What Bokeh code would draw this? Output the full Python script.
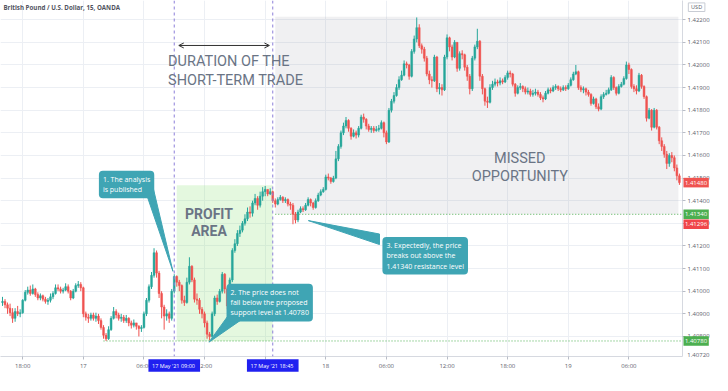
from bokeh.plotting import figure
from bokeh.models import (Range1d, FixedTicker, NumeralTickFormatter, Label, Span,
                          BoxAnnotation, Arrow, OpenHead, ColumnDataSource)
from bokeh.core.properties import value
from bokeh.embed import file_html
from bokeh.resources import INLINE

# ---------------- data (GBP/USD, 15-minute candles) -------------
TITLE = "British Pound / U.S. Dollar, 15, OANDA"
start_hour = -8.0      # first candle: 16 May 16:00 (hours relative to 17 May 00:00)
bar_hours = 0.25       # 15 minutes
first_open = 1.40950

close = [
    1.40955, 1.40940, 1.40925, 1.40905, 1.40880, 1.40910, 1.40900, 1.40905, 1.40960, 1.40995,
    1.41005, 1.40990, 1.41010, 1.40985, 1.40970, 1.40980, 1.40965, 1.40955, 1.40960, 1.40975,
    1.40990, 1.41015, 1.41010, 1.41000, 1.41005, 1.41020, 1.41000, 1.40970, 1.41000, 1.41025,
    1.41030, 1.41015, 1.40900, 1.40885, 1.40880, 1.40895, 1.40880, 1.40890, 1.40870, 1.40840,
    1.40805, 1.40790, 1.40830, 1.40880, 1.40910, 1.40895, 1.40880, 1.40885, 1.40870, 1.40880,
    1.40860, 1.40850, 1.40860,
    1.40845, 1.40835, 1.40840, 1.40900, 1.40960, 1.41020, 1.41070, 1.41170, 1.41080, 1.40990,
    1.40930, 1.40890, 1.40900, 1.40880, 1.41000, 1.41065, 1.41040, 1.41025, 1.40960, 1.40950,
    1.41040, 1.41110, 1.41050, 1.40965, 1.40960, 1.40920, 1.40900, 1.40860, 1.40810, 1.40800,
    1.40900, 1.40970, 1.40955, 1.41000, 1.41075, 1.41010, 1.40935, 1.41050, 1.41180, 1.41210,
    1.41255, 1.41270, 1.41300, 1.41320, 1.41350, 1.41345, 1.41390, 1.41410, 1.41380, 1.41420,
    1.41440, 1.41450,
    1.41430, 1.41440, 1.41400, 1.41385, 1.41405, 1.41415, 1.41400, 1.41405, 1.41385, 1.41380,
    1.41340, 1.41315, 1.41350, 1.41365, 1.41360, 1.41380, 1.41405, 1.41390, 1.41370, 1.41400,
    1.41425, 1.41440, 1.41450, 1.41505, 1.41500, 1.41485, 1.41500, 1.41585, 1.41640, 1.41700,
    1.41730, 1.41755, 1.41720, 1.41685, 1.41700, 1.41690, 1.41720, 1.41770, 1.41760, 1.41730,
    1.41715, 1.41720, 1.41710, 1.41715, 1.41720, 1.41745, 1.41700, 1.41660, 1.41800, 1.41840,
    1.41865, 1.41900,
    1.41935, 1.41955, 1.42005, 1.42000, 1.41950, 1.42060, 1.42115, 1.42165, 1.42085, 1.42070,
    1.42030, 1.41960, 1.41935, 1.41930, 1.42035, 1.41895, 1.41900, 1.41890, 1.42035, 1.42120,
    1.42080, 1.42035, 1.42100, 1.41985, 1.42050, 1.42045, 1.41990, 1.41950, 1.41895, 1.42030,
    1.42080, 1.42105, 1.41950, 1.41895, 1.41840, 1.41835, 1.41900, 1.41915, 1.41925, 1.41920,
    1.41930, 1.41925, 1.41945, 1.41965, 1.41960, 1.41915, 1.41875, 1.41900, 1.41905, 1.41895,
    1.41880, 1.41885, 1.41870, 1.41875, 1.41880,
    1.41870, 1.41855, 1.41850, 1.41875, 1.41890, 1.41885, 1.41900, 1.41905, 1.41895, 1.41890,
    1.41900, 1.41895, 1.41910, 1.41935, 1.41960, 1.41970, 1.41900, 1.41890, 1.41895, 1.41880,
    1.41870, 1.41830, 1.41850, 1.41815, 1.41805, 1.41860, 1.41870, 1.41875, 1.41890, 1.41945,
    1.41900, 1.41875, 1.41905, 1.41915, 1.41940, 1.42000, 1.41980, 1.41905, 1.41895, 1.41885,
    1.41955, 1.41905, 1.41860, 1.41765, 1.41800, 1.41725, 1.41800, 1.41725, 1.41665, 1.41640,
    1.41605, 1.41565, 1.41600, 1.41590, 1.41545, 1.41510, 1.41480,
]

high = [
    1.40975, 1.40965, 1.40950, 1.40945, 1.40925, 1.40925, 1.40935, 1.40920, 1.40965, 1.41005,
    1.41020, 1.41025, 1.41030, 1.41015, 1.40995, 1.40990, 1.40985, 1.40975, 1.40970, 1.40990,
    1.41000, 1.41030, 1.41030, 1.41020, 1.41015, 1.41035, 1.41030, 1.41005, 1.41010, 1.41035,
    1.41045, 1.41040, 1.41020, 1.40910, 1.40900, 1.40905, 1.40905, 1.40905, 1.40900, 1.40880,
    1.40850, 1.40815, 1.40845, 1.40890, 1.40930, 1.40920, 1.40905, 1.40900, 1.40895, 1.40895,
    1.40885, 1.40870, 1.40875,
    1.40860, 1.40850, 1.40850, 1.40910, 1.40970, 1.41030, 1.41085, 1.41190, 1.41180, 1.41090,
    1.41000, 1.40940, 1.40920, 1.40910, 1.41010, 1.41075, 1.41070, 1.41050, 1.41030, 1.40980,
    1.41060, 1.41150, 1.41115, 1.41060, 1.40990, 1.40970, 1.40930, 1.40910, 1.40870, 1.40820,
    1.40910, 1.40980, 1.40985, 1.41010, 1.41085, 1.41080, 1.41015, 1.41060, 1.41190, 1.41230,
    1.41270, 1.41290, 1.41310, 1.41340, 1.41370, 1.41375, 1.41400, 1.41430, 1.41420, 1.41440,
    1.41460, 1.41465,
    1.41450, 1.41455, 1.41445, 1.41410, 1.41415, 1.41425, 1.41420, 1.41415, 1.41410, 1.41395,
    1.41390, 1.41350, 1.41360, 1.41375, 1.41375, 1.41390, 1.41415, 1.41410, 1.41395, 1.41410,
    1.41435, 1.41450, 1.41460, 1.41515, 1.41520, 1.41505, 1.41510, 1.41620, 1.41650, 1.41710,
    1.41745, 1.41770, 1.41760, 1.41725, 1.41715, 1.41710, 1.41730, 1.41780, 1.41785, 1.41765,
    1.41740, 1.41730, 1.41730, 1.41730, 1.41735, 1.41755, 1.41750, 1.41710, 1.41810, 1.41850,
    1.41880, 1.41915,
    1.41950, 1.41975, 1.42020, 1.42015, 1.42005, 1.42070, 1.42130, 1.42210, 1.42180, 1.42095,
    1.42080, 1.42040, 1.41975, 1.41950, 1.42045, 1.42040, 1.41920, 1.41915, 1.42045, 1.42135,
    1.42125, 1.42090, 1.42110, 1.42100, 1.42060, 1.42065, 1.42050, 1.42000, 1.41960, 1.42040,
    1.42090, 1.42160, 1.42110, 1.41960, 1.41900, 1.41860, 1.41915, 1.41930, 1.41940, 1.41935,
    1.41945, 1.41940, 1.41955, 1.41975, 1.41975, 1.41965, 1.41920, 1.41910, 1.41920, 1.41910,
    1.41905, 1.41900, 1.41895, 1.41890, 1.41895,
    1.41890, 1.41880, 1.41865, 1.41885, 1.41900, 1.41900, 1.41910, 1.41915, 1.41910, 1.41905,
    1.41910, 1.41910, 1.41920, 1.41945, 1.41970, 1.42000, 1.41975, 1.41910, 1.41905, 1.41900,
    1.41890, 1.41875, 1.41860, 1.41855, 1.41830, 1.41870, 1.41880, 1.41890, 1.41900, 1.41955,
    1.41950, 1.41905, 1.41915, 1.41925, 1.41950, 1.42015, 1.42010, 1.41985, 1.41915, 1.41910,
    1.41965, 1.41960, 1.41910, 1.41865, 1.41810, 1.41805, 1.41810, 1.41805, 1.41730, 1.41680,
    1.41650, 1.41620, 1.41610, 1.41615, 1.41600, 1.41560, 1.41520,
]

low = [
    1.40935, 1.40925, 1.40900, 1.40890, 1.40860, 1.40865, 1.40890, 1.40885, 1.40900, 1.40955,
    1.40985, 1.40980, 1.40985, 1.40975, 1.40960, 1.40960, 1.40955, 1.40945, 1.40940, 1.40950,
    1.40965, 1.40985, 1.41000, 1.40990, 1.40990, 1.41000, 1.40990, 1.40960, 1.40965, 1.40995,
    1.41015, 1.41000, 1.40885, 1.40870, 1.40860, 1.40870, 1.40870, 1.40865, 1.40855, 1.40830,
    1.40790, 1.40780, 1.40785, 1.40825, 1.40875, 1.40880, 1.40870, 1.40865, 1.40860, 1.40860,
    1.40845, 1.40835, 1.40840,
    1.40830, 1.40800, 1.40820, 1.40835, 1.40890, 1.40950, 1.41010, 1.41060, 1.41060, 1.40970,
    1.40880, 1.40830, 1.40870, 1.40860, 1.40870, 1.40990, 1.41020, 1.41000, 1.40945, 1.40935,
    1.40945, 1.41030, 1.41040, 1.40950, 1.40940, 1.40900, 1.40880, 1.40840, 1.40790, 1.40782,
    1.40795, 1.40890, 1.40940, 1.40950, 1.40990, 1.40990, 1.40920, 1.40930, 1.41040, 1.41170,
    1.41200, 1.41240, 1.41260, 1.41290, 1.41310, 1.41325, 1.41330, 1.41380, 1.41360, 1.41370,
    1.41400, 1.41420,
    1.41420, 1.41425, 1.41390, 1.41370, 1.41380, 1.41400, 1.41390, 1.41390, 1.41375, 1.41360,
    1.41296, 1.41300, 1.41305, 1.41345, 1.41350, 1.41355, 1.41375, 1.41375, 1.41360, 1.41365,
    1.41395, 1.41420, 1.41435, 1.41445, 1.41490, 1.41475, 1.41480, 1.41495, 1.41575, 1.41630,
    1.41690, 1.41720, 1.41705, 1.41670, 1.41680, 1.41675, 1.41680, 1.41715, 1.41745, 1.41715,
    1.41705, 1.41700, 1.41700, 1.41705, 1.41705, 1.41715, 1.41680, 1.41650, 1.41655, 1.41790,
    1.41830, 1.41860,
    1.41890, 1.41930, 1.41950, 1.41985, 1.41935, 1.41945, 1.42050, 1.42100, 1.42075, 1.42050,
    1.42015, 1.41950, 1.41915, 1.41900, 1.41925, 1.41880, 1.41870, 1.41865, 1.41885, 1.42025,
    1.42060, 1.42020, 1.42030, 1.41970, 1.41975, 1.42025, 1.41975, 1.41930, 1.41870, 1.41885,
    1.42020, 1.42070, 1.41930, 1.41870, 1.41820, 1.41810, 1.41830, 1.41890, 1.41905, 1.41905,
    1.41910, 1.41915, 1.41920, 1.41935, 1.41945, 1.41905, 1.41860, 1.41870, 1.41890, 1.41880,
    1.41870, 1.41870, 1.41860, 1.41860, 1.41865,
    1.41860, 1.41845, 1.41835, 1.41845, 1.41870, 1.41875, 1.41880, 1.41890, 1.41885, 1.41880,
    1.41885, 1.41885, 1.41890, 1.41905, 1.41930, 1.41955, 1.41890, 1.41880, 1.41875, 1.41865,
    1.41860, 1.41820, 1.41825, 1.41805, 1.41795, 1.41800, 1.41850, 1.41865, 1.41870, 1.41885,
    1.41890, 1.41865, 1.41870, 1.41900, 1.41910, 1.41935, 1.41960, 1.41895, 1.41880, 1.41870,
    1.41880, 1.41895, 1.41850, 1.41750, 1.41760, 1.41710, 1.41720, 1.41715, 1.41650, 1.41620,
    1.41590, 1.41540, 1.41550, 1.41570, 1.41530, 1.41490, 1.41470,
]

time_ticks = [-6, 0, 6, 12, 18, 24, 30, 36, 42, 48, 54]
time_labels = ["18:00", "17", "06:00", "12:00", "18:00", "18", "06:00", "12:00", "18:00", "19", "06:00"]
price_ticks = [1.408, 1.409, 1.410, 1.411, 1.412, 1.413, 1.414, 1.415,
               1.416, 1.417, 1.418, 1.419, 1.420, 1.421, 1.422]

trade_open = 9.0          # 17 May '21 09:00
trade_close = 18.75       # 17 May '21 18:45
trade_tags = ["17 May '21  09:00", "17 May '21  18:45"]
support = 1.40780
resistance = 1.41340
breakout_low = 1.41296
last_price = 1.41480
bottom_price = 1.40720
price_tags = [last_price, resistance, breakout_low, support]
price_tag_colors = ["#ef5350", "#4caf50", "#f0464a", "#4caf50"]
support_from = 2.0
resistance_from = 19.0
profit_left, profit_top = 9.25, 1.41468
missed_left, missed_right, missed_top = 19.0, 58.9, 1.42213

# ---------------- geometry helpers (reference pixel -> data) -----------------------
X_LEFT, X_RIGHT = -8.197, 59.306
Y_TOP, Y_BOTTOM = 1.42285, 1.407114
PX_PER_HOUR, PX_PER_PRICE = 10.37, 23640.0
def hx(px):
    return X_LEFT + px / PX_PER_HOUR
def py(px):
    return Y_TOP - px / PX_PER_PRICE

UP, DOWN = "#26a69a", "#ef5350"
TEAL = "#3fa5b4"
TXT = "#6a7485"
FONT = "Open Sans"

n = min(len(close), len(high), len(low))
hours = [start_hour + bar_hours * i for i in range(n)]
opens = [first_open] + close[:n - 1]
src = ColumnDataSource(dict(
    x=hours, high=high[:n], low=low[:n],
    top=[max(o, c) for o, c in zip(opens, close[:n])],
    bottom=[min(o, c) for o, c in zip(opens, close[:n])],
    color=[UP if c >= o else DOWN for o, c in zip(opens, close[:n])],
))

p = figure(width=712, height=375, x_range=Range1d(X_LEFT, X_RIGHT),
           y_range=Range1d(Y_BOTTOM, Y_TOP), output_backend="svg",
           toolbar_location=None, y_axis_location="right",
           min_border_left=0, min_border_top=0, min_border_right=28, min_border_bottom=19,
           outline_line_color=None, background_fill_color="white", border_fill_color="white")

# axes
p.xaxis.ticker = FixedTicker(ticks=time_ticks)
p.xaxis.major_label_overrides = dict(zip(time_ticks, time_labels))
p.yaxis.ticker = FixedTicker(ticks=price_ticks)
p.yaxis.formatter = NumeralTickFormatter(format="0.00000")
for ax in (p.xaxis[0], p.yaxis[0]):
    ax.major_label_text_font = FONT
    ax.major_label_text_font_size = "6px"
    ax.major_label_text_color = "#5d616c"
    ax.axis_line_color = "#d6d9e0"
    ax.major_tick_line_color = "#b8bcc6"
    ax.major_tick_out = 3
    ax.major_tick_in = 0
    ax.minor_tick_out = 0
    ax.minor_tick_in = 0
    ax.major_label_standoff = 2
p.xgrid.ticker = FixedTicker(ticks=time_ticks)
p.ygrid.ticker = FixedTicker(ticks=price_ticks)
p.grid.grid_line_color = "#eceff4"

# shaded areas
p.add_layout(BoxAnnotation(left=missed_left, right=missed_right, bottom=resistance, top=missed_top,
                           fill_color="#9598a1", fill_alpha=0.14, line_color=None, level="underlay"))
p.add_layout(BoxAnnotation(left=profit_left, right=trade_close, bottom=support, top=profit_top,
                           fill_color="#8ee07a", fill_alpha=0.24, line_color=None, level="underlay"))

# dotted support / resistance lines
p.segment(x0=[support_from, resistance_from], y0=[support, resistance],
          x1=[X_RIGHT, X_RIGHT], y1=[support, resistance],
          line_color="#4caf50", line_dash="1 2", line_width=1)

# vertical dashed time markers
for t in (trade_open, trade_close):
    p.add_layout(Span(location=t, dimension="height", line_color="#8c7fd9",
                      line_dash="3 3", line_width=1))

# candles
p.segment(x0="x", y0="low", x1="x", y1="high", source=src, line_color="color", line_width=1)
p.vbar(x="x", width=0.18, top="top", bottom="bottom", source=src,
       fill_color="color", line_color="color", line_width=0.5)

# callout pointers
ptr_x = [[hx(148), hx(157), hx(177)],
         [hx(236), hx(258), hx(214)],
         [hx(389), hx(389), hx(316)]]
ptr_y = [[py(197), py(197), py(283)],
         [py(326), py(326), py(357)],
         [py(244), py(255), py(230)]]
p.patches(xs=ptr_x, ys=ptr_y, fill_color=TEAL, line_color=TEAL)

def add_label(px, pyy, text, size, color, align="left", baseline="top", font=FONT,
              style="normal", bg=None, pad=0, radius=0, lh=1.2):
    lab = Label(x=hx(px), y=py(pyy), text=text, text_font=font, text_font_size=size,
                text_color=color, text_align=align, text_baseline=baseline,
                text_font_style=style, text_line_height=lh)
    if bg is not None:
        lab.background_fill_color = bg
        lab.padding = pad
        lab.border_radius = radius
    p.add_layout(lab)
    return lab

# callouts
add_label(101, 178, "1. The analysis\nis published", "7px", "white", bg=TEAL, pad=4, radius=4, lh=1.15)
add_label(232, 296, "2. The price does not\nfall below the proposed\nsupport level at 1.40780",
          "7px", "white", bg=TEAL, pad=4, radius=4, lh=1.15)
add_label(392, 247, "3. Expectedly, the price\nbreaks out above the\n1.41340 resistance level",
          "7px", "white", bg=TEAL, pad=4, radius=4, lh=1.15)

# big texts
add_label(172, 55, "DURATION OF THE\nSHORT-TERM TRADE", "14.5px", TXT, font="Roboto", lh=1.1)
add_label(214, 215, "PROFIT\nAREA", "14px", TXT, align="center", font="Roboto", style="bold", lh=1.05)
add_label(533, 156, "MISSED\nOPPORTUNITY", "14.5px", TXT, align="center", font="Roboto", lh=1.1)

# duration arrow
p.add_layout(Arrow(start=OpenHead(size=5, line_color="#333333", line_width=1),
                   end=OpenHead(size=5, line_color="#333333", line_width=1),
                   x_start=hx(183), y_start=py(47), x_end=hx(276), y_end=py(47),
                   line_color="#333333", line_width=1))

# title
add_label(3, 7.5, TITLE, "6.2px", "#50535e", baseline="middle", style="bold")

# ---- tags drawn over the axis areas (overlay-level glyphs) ----
tag_w = hx(727) - hx(701)
tag_h = 10 / PX_PER_PRICE
p.rect(x=[hx(714)] * len(price_tags), y=price_tags, width=tag_w, height=tag_h,
       fill_color=price_tag_colors, line_color=None, level="overlay")
p.text(x=[hx(702.5)] * len(price_tags), y=price_tags, text=[f"{v:.5f}" for v in price_tags],
       text_font=value(FONT), text_font_size=value("6px"), text_color="white",
       text_align="left", text_baseline="middle", level="overlay")
p.text(x=[hx(705)], y=[bottom_price], text=[f"{bottom_price:.5f}"],
       text_font=value(FONT), text_font_size=value("6px"), text_color="#5d616c",
       text_align="left", text_baseline="middle", level="overlay")

# currency box
p.rect(x=[hx(714.5)], y=[py(7)], width=hx(723) - hx(706), height=9 / PX_PER_PRICE,
       fill_color="white", line_color="#c8ccd4", line_width=1, level="overlay")
p.text(x=[hx(714.5)], y=[py(7)], text=["USD"], text_font=value(FONT),
       text_font_size=value("5.5px"), text_color="#555a66",
       text_align="center", text_baseline="middle", level="overlay")

# blue time tags on the time axis
p.rect(x=[trade_open, trade_close], y=[py(381.5)] * 2, width=53 / PX_PER_HOUR,
       height=13 / PX_PER_PRICE, fill_color="#2020f0", line_color=None, level="overlay")
p.text(x=[trade_open, trade_close], y=[py(381.5)] * 2, text=trade_tags,
       text_font=value(FONT), text_font_size=value("5.5px"), text_color="white",
       text_align="center", text_baseline="middle", level="overlay")

open("out.html", "w").write(file_html(p, INLINE))
